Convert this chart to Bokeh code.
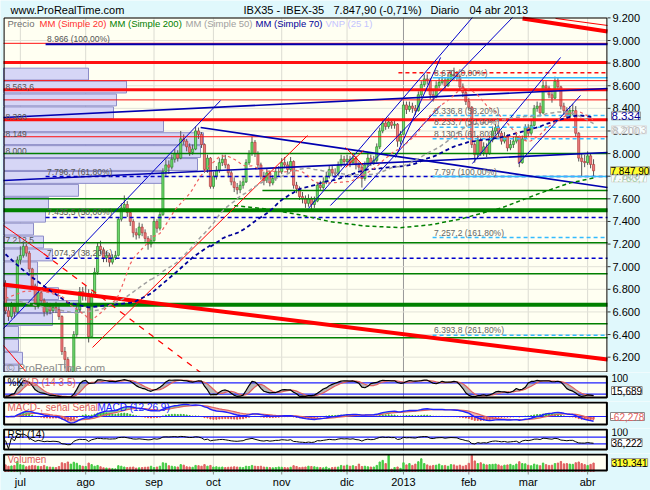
import numpy as np
import pandas as pd
from bokeh.plotting import figure
from bokeh.layouts import column
from bokeh.models import Range1d, Label, ColumnDataSource
from bokeh.embed import file_html
from bokeh.resources import INLINE

# ---------------- data ----------------
month_idx = [5, 27, 50, 70, 93, 115, 134, 156, 176, 196]
month_labels = ["jul", "ago", "sep", "oct", "nov", "dic", "2013", "feb", "mar", "abr"]
year_idx = 134

first_open = 6850
closes = [6610, 6560, 6650, 6600, 7060, 7100, 7180, 7120, 6980, 6830,
          6650, 6770, 6700, 6600, 6650, 6610, 6640, 6620, 6560, 6250,
          6180, 5990, 6010, 6400, 6620, 6780, 6740, 6760, 6380, 6750,
          6950, 7180, 7150, 7080, 7100, 7040, 7080, 7100, 7420, 7520,
          7550, 7480, 7400, 7300, 7280, 7350, 7300, 7250, 7200, 7230,
          7400, 7340, 7460, 7840, 7900, 7880, 7950, 8000, 7960, 8130,
          8110, 8060, 8010, 8040, 8200, 8170, 8080, 7860, 7960, 7710,
          7800, 7850, 7920, 7950, 7900, 7830, 7750, 7700, 7680, 7720,
          7750, 7920, 8000, 8100, 8000, 7900, 7800, 7760, 7830, 7740,
          7780, 7840, 7840, 7920, 7900, 7860, 7930, 7720, 7690, 7620,
          7600, 7560, 7600, 7550, 7580, 7720, 7700, 7750, 7800, 7860,
          7830, 7820, 7900, 7950, 7930, 7950, 7920, 7960, 7900, 7880,
          7780, 7900, 7960, 7920, 7940, 8060, 8200, 8270, 8240, 8280,
          8250, 8260, 8110, 8170, 8430, 8390, 8420, 8400, 8380, 8520,
          8610, 8660, 8650, 8520, 8500, 8600, 8630, 8650, 8600, 8660,
          8700, 8690, 8680, 8590, 8540, 8460, 8410, 8080, 7990, 8120,
          8010, 8060, 8000, 8120, 8200, 8230, 8180, 8110, 8150, 8050,
          8080, 8110, 8150, 7920, 8130, 8230, 8180, 8250, 8400, 8420,
          8360, 8600, 8580, 8520, 8490, 8640, 8590, 8420, 8380, 8330,
          8380, 8380, 8180, 7960, 7930, 7920, 7980, 7904, 7847.9]
highs = [6880, 6650, 6690, 6680, 7090, 7180, 7220, 7200, 7140, 6990,
         6850, 6800, 6790, 6720, 6690, 6680, 6670, 6690, 6650, 6570,
         6290, 6200, 6100, 6430, 6660, 6820, 6820, 6830, 6800, 6780,
         6990, 7210, 7230, 7170, 7140, 7120, 7110, 7140, 7440, 7560,
         7630, 7580, 7500, 7420, 7340, 7390, 7380, 7330, 7270, 7280,
         7430, 7420, 7510, 7870, 7950, 7940, 7990, 8040, 8030, 8200,
         8170, 8130, 8090, 8080, 8240, 8230, 8190, 8090, 7990, 7970,
         7840, 7890, 7960, 7990, 7990, 7910, 7850, 7790, 7740, 7760,
         7790, 7950, 8030, 8150, 8120, 8020, 7920, 7840, 7870, 7850,
         7810, 7880, 7890, 7960, 7970, 7930, 7970, 7940, 7750, 7710,
         7660, 7630, 7640, 7620, 7620, 7750, 7760, 7790, 7840, 7890,
         7890, 7870, 7930, 7990, 7980, 7990, 7980, 8000, 7980, 7930,
         7900, 7930, 8000, 7990, 7980, 8090, 8230, 8310, 8300, 8320,
         8300, 8300, 8270, 8200, 8460, 8460, 8460, 8450, 8430, 8550,
         8640, 8700, 8700, 8670, 8560, 8640, 8670, 8690, 8670, 8700,
         8740, 8760, 8730, 8700, 8620, 8560, 8490, 8420, 8100, 8160,
         8140, 8100, 8090, 8160, 8240, 8260, 8250, 8200, 8190, 8170,
         8120, 8150, 8190, 8160, 8160, 8260, 8260, 8290, 8430, 8460,
         8450, 8640, 8640, 8600, 8560, 8680, 8670, 8600, 8450, 8410,
         8420, 8440, 8420, 8190, 8000, 7990, 8020, 8000, 7950]
lows = [6580, 6520, 6540, 6550, 6590, 7020, 7080, 7090, 6950, 6800,
        6620, 6630, 6660, 6560, 6570, 6580, 6590, 6590, 6530, 6220,
        6100, 5940, 5950, 6000, 6380, 6600, 6700, 6700, 6330, 6370,
        6730, 6930, 7110, 7040, 7040, 7000, 7020, 7060, 7090, 7400,
        7490, 7440, 7360, 7260, 7240, 7250, 7270, 7220, 7150, 7170,
        7220, 7300, 7320, 7450, 7800, 7820, 7860, 7920, 7930, 7950,
        8080, 8020, 7980, 7990, 8030, 8130, 8050, 7830, 7830, 7690,
        7690, 7770, 7830, 7890, 7870, 7790, 7720, 7660, 7640, 7650,
        7690, 7740, 7900, 7980, 7970, 7870, 7770, 7720, 7740, 7710,
        7720, 7760, 7800, 7820, 7870, 7830, 7840, 7690, 7650, 7590,
        7560, 7520, 7530, 7500, 7520, 7570, 7670, 7680, 7730, 7780,
        7800, 7790, 7800, 7880, 7900, 7900, 7880, 7900, 7860, 7850,
        7700, 7760, 7880, 7890, 7900, 7920, 8040, 8180, 8210, 8220,
        8220, 8220, 8060, 8080, 8170, 8350, 8370, 8360, 8340, 8370,
        8500, 8590, 8610, 8480, 8460, 8490, 8580, 8610, 8570, 8590,
        8640, 8650, 8640, 8560, 8500, 8430, 8380, 8050, 7920, 7970,
        7980, 7980, 7970, 7990, 8100, 8170, 8150, 8080, 8090, 8020,
        8030, 8050, 8090, 7880, 7910, 8110, 8150, 8160, 8240, 8370,
        8330, 8350, 8540, 8490, 8450, 8480, 8560, 8390, 8340, 8290,
        8300, 8340, 8150, 7930, 7800, 7880, 7900, 7870, 7800]
# volume, thousands
volumes = [250, 200, 210, 230, 380, 260, 240, 180, 210, 230,
           220, 200, 190, 230, 180, 170, 160, 150, 190,
           330, 300, 360, 280, 350, 310, 230, 200,
           190, 320, 260, 200, 230, 180, 140, 130, 120, 110, 100,
           220, 200, 170, 150, 160, 170, 130, 140, 150, 160, 170, 200,
           150, 170, 200, 330, 310, 220, 200, 180, 170, 260,
           240, 180, 170, 160, 230, 220, 200, 260, 200, 230,
           170, 180, 160, 170, 150, 160, 170, 180, 170, 160, 150, 200,
           190, 230, 200, 190, 200, 170, 160, 150, 140, 150, 170,
           160, 150, 140, 160, 220, 190, 150, 160, 170, 200, 190,
           180, 160, 150, 140, 170, 120, 150, 160, 170, 230, 210,
           240, 200, 220, 190, 280, 190, 200, 180, 170, 170,
           230, 360, 420, 300, 610, 90, 150, 170, 120,
           330, 250, 300, 230, 280, 370, 480, 300, 250, 210, 230,
           240, 280, 220, 230, 200, 260, 250, 210, 240, 200, 230,
           310, 610, 400, 300, 330, 280, 250, 260, 270, 280,
           250, 210, 240, 250, 270, 230, 280, 370, 300, 290,
           240, 220, 280, 250, 220, 320, 260, 230, 240, 300,
           320, 380, 290, 300, 280, 270, 330, 360, 300, 260,
           230, 270, 319.341]

price_ticks = [6200, 6400, 6600, 6800, 7000, 7200, 7400, 7600, 7800,
               8000, 8200, 8400, 8600, 8800, 9000, 9200]
price_tick_labels = ["6.200", "6.400", "6.600", "6.800", "7.000", "7.200", "7.400", "7.600",
                     "7.800", "8.000", "8.200", "8.400", "8.600", "8.800", "9.000", "9.200"]

# volume-at-price profile VNP(25): 25 bins between these prices, bottom -> top
vnp_low, vnp_high = 5905, 8760
vnp_vals = [10, 15, 19, 15, 15, 49, 77, 55, 34, 34, 49, 40, 30, 42, 45,
            75, 160, 194, 197, 200, 160, 110, 113, 123, 85]

# moving averages: leading parts (before enough history)
ma20_warm_day = [0, 6, 12, 19]
ma20_warm_val = [6720, 6780, 6790, 6737]
ma50_warm_day = [0, 5, 10, 17, 24, 32, 40, 49]
ma50_warm_val = [6720, 6690, 6660, 6620, 6590, 6620, 6720, 6890]
ma70_warm_day = [0, 5, 9, 15, 21, 28, 34, 43, 49, 57, 63, 69]
ma70_warm_val = [7110, 6990, 6905, 6790, 6683, 6640, 6657, 6683, 6763, 6940, 7081, 7190]
ma200_day = [77, 88, 99, 109, 121, 133, 143, 153, 167, 180, 190, 198]
ma200_val = [7540, 7510, 7460, 7400, 7360, 7345, 7370, 7420, 7520, 7650, 7740, 7784]

# horizontal levels
red_thick_levels = [8805, 8563.6, 8300]
red_thin_levels = [8975, 8645, 8475, 8149]
red_dash_level, red_dash_from = 8715, 132.3
green_thin_levels = [8000, 7600, 7212.5, 6937, 6495, 6371]
green_thick_levels = [7500, 6663]
green_short_level, green_short_from = 7674, 86.5
left_level_texts = [(8563.6, "8.563,6"), (8300, "8.300"), (8149, "8.149"), (8000, "8.000"), (7212.5, "7.212,5")]

fib1_from = 13.5
fib1_levels = [8966, 7796.7, 7435.5, 7074.3]
fib1_texts = ["8.966 (100,00%)", "7.796,7 (61,80%)", "7.435,5 (50,00%)", "7.074,3 (38,20%)"]
fib2_from = 143.8
fib2_levels = [8670, 8336.8, 8233.7, 8130.6, 7797, 7257.2, 6393.8]
fib2_texts = ["8.670 (0,00%)", "8.336,8 (38,20%)", "8.233,7 (50,00%)", "8.130,6 (61,80%)",
              "7.797 (100,00%)", "7.257,2 (161,80%)", "6.393,8 (261,80%)"]
fib2_solid = [True, False, False, False, True, False, False]

# trend lines (day, price) -> (day, price)
blue_thin_lines = [(-0.67, 6453, 72.4, 8469), (102, 7515, 157.2, 9203), (109.4, 7541, 170.7, 9203),
                   (131.3, 7966, 146.5, 8850), (157.2, 7912, 186.9, 8850), (172.7, 7912, 193.6, 8514),
                   (120.2, 7674, 146.5, 8425)]
blue_long_lines = [(-0.67, 8319, 202.69, 8576), (-0.67, 7762, 202.69, 8010), (65.7, 8231, 202.69, 7700)]
red_thick_diag = [(-0.67, 6843, 202.69, 6179), (174.1, 9195, 202.69, 9080)]
red_thin_diag = [(185.2, 9195, 202.69, 9133), (-0.67, 7364, 12.8, 7117), (-0.67, 6303, 7.4, 6056),
                 (29.3, 6286, 101.7, 8160), (114.5, 8054, 120.5, 7895), (114.5, 7877, 120.5, 8027)]
red_dash_diag = [(12.8, 7117, 65.7, 6064)]

last_texts = {"close": "7.847,90", "ma70": "8.334", "ma50": "8.210,3", "ma200": "7.783,7",
              "stoch": "15,689", "macd": "-62,278", "rsi": "36,222", "vol": "319.341"}
last_vals = {"close": 7847.9, "ma70": 8334, "ma50": 8210.3, "ma200": 7783.7}

# ---------------- derived series ----------------
n = len(closes)
idx = np.arange(n)
c = pd.Series(closes, dtype=float)
h = pd.Series(highs, dtype=float)
l = pd.Series(lows, dtype=float)
opens = [first_open] + closes[:-1]
o = pd.Series(opens, dtype=float)
up = (c >= o).values

ma20 = c.rolling(20).mean()
ma50 = c.rolling(50).mean()
ma70 = c.rolling(70).mean()

ll = l.rolling(14, min_periods=1).min()
hh = h.rolling(14, min_periods=1).max()
fastk = 100 * (c - ll) / (hh - ll)
stk = fastk.rolling(3, min_periods=1).mean()
std = stk.rolling(5, min_periods=1).mean()

ema12 = c.ewm(span=12, adjust=False).mean()
ema26 = c.ewm(span=26, adjust=False).mean()
macd = ema12 - ema26
sig = macd.ewm(span=9, adjust=False).mean()
hist = macd - sig

delta = c.diff().fillna(0)
gain = delta.clip(lower=0).ewm(alpha=1 / 14, adjust=False).mean()
loss = (-delta.clip(upper=0)).ewm(alpha=1 / 14, adjust=False).mean()
rsi = (100 - 100 / (1 + gain / loss.replace(0, np.nan))).fillna(50)

# ---------------- layout geometry ----------------
FONT = "Liberation Sans"
BG = "#e0f8fc"
PBG = "#fffff2"
W = 650
SX = 2.97                       # px per trading day
XL = -5 / SX                    # day at page x = 0
XR = XL + W / SX                # day at page x = 650
DX0 = (3 - 5) / SX              # left border of plot boxes
DX1 = (607 - 5) / SX            # right border of plot boxes
GREEN_F, GREEN_L = "#6fdc6f", "#2a8a2a"
RED_F, RED_L = "#ec7d7d", "#b03c3c"


def new_fig(height, y0, y1):
    f = figure(width=W, height=height, x_range=Range1d(XL, XR), y_range=Range1d(y0, y1),
               output_backend="svg", toolbar_location=None,
               x_axis_location=None, y_axis_location=None,
               min_border_left=0, min_border_right=0, min_border_top=0, min_border_bottom=0,
               background_fill_color=BG, border_fill_color=BG, outline_line_color=None)
    f.xgrid.visible = False
    f.ygrid.visible = False
    return f


def lab(f, x, y, text, color, size, xu="screen", yu="screen", align="left",
        baseline="middle", **kw):
    f.add_layout(Label(x=x, y=y, x_units=xu, y_units=yu, text=text, text_color=color,
                       text_font_size=f"{size}px", text_font=FONT, text_align=align,
                       text_baseline=baseline, **kw))


def panel(fig_top, fig_bot, box_top, box_bot, vtop, vbot):
    """figure covering page rows fig_top..fig_bot, data box box_top..box_bot."""
    u = (vtop - vbot) / (box_bot - box_top)

    def v(py):
        return vtop - (py - box_top) * u

    f = new_fig(fig_bot - fig_top, v(fig_bot), v(fig_top))
    f.quad(left=DX0, right=DX1, bottom=vbot, top=vtop, fill_color=PBG, line_color=None)
    for mi in month_idx:
        f.segment(x0=mi, y0=vbot, x1=mi, y1=vtop,
                  line_color="#999999" if mi == year_idx else "#dcdcd2", line_width=1)
    return f, v


def border(f, v, box_top, box_bot, w):
    f.quad(left=DX0 + 0.2, right=DX1 - 0.2, bottom=v(box_bot - w / 2), top=v(box_top + w / 2),
           fill_color=None, line_color="black", line_width=w)


def hline(f, lv, x0=DX0, **kw):
    f.segment(x0=x0, y0=lv, x1=DX1, y1=lv, **kw)


# ---- main price panel: figure rows 0..372, box 17..372 ----
PY = 8.842
def price_at(py):
    return 9000 - (py - 40) * PY

p, pv = panel(0, 372, 17, 372, price_at(17), price_at(372))
for t in price_ticks:
    hline(p, t, line_color="#e2e2d8", line_width=1)

# volume profile: 1 unit = 1 px from the box's left edge
p.extra_x_ranges = {"vnp": Range1d(-3, W - 3)}
bw = (vnp_high - vnp_low) / len(vnp_vals)
vnp_centers = [vnp_low + bw * (k + 0.5) for k in range(len(vnp_vals))]
p.hbar(y=vnp_centers, height=bw * 0.92, left=0, right=vnp_vals, x_range_name="vnp",
       fill_color="#d6d6f6", line_color="#8c8cc8", line_width=1)

# candles
src = ColumnDataSource(dict(x=idx, h=h.values, l=l.values,
                            top=np.maximum(o.values, c.values), bot=np.minimum(o.values, c.values),
                            fill=[GREEN_F if u else RED_F for u in up],
                            line=[GREEN_L if u else RED_L for u in up]))
p.segment(x0="x", y0="l", x1="x", y1="h", source=src, line_color="#555555", line_width=1)
p.vbar(x="x", width=0.72, top="top", bottom="bot", fill_color="fill", line_color="line",
       line_width=0.7, source=src)

# horizontal lines
for lv in red_thick_levels:
    hline(p, lv, line_color="#ff1010", line_width=3)
for lv in red_thin_levels:
    hline(p, lv, line_color="#ff1010", line_width=1)
for lv in green_thin_levels:
    hline(p, lv, line_color="#008000", line_width=1.5)
for lv in green_thick_levels:
    hline(p, lv, line_color="#008000", line_width=4)
hline(p, green_short_level, x0=green_short_from, line_color="#008000", line_width=1.5)
hline(p, red_dash_level, x0=red_dash_from, line_color="#ff1010", line_width=1.3, line_dash="4 3")

hline(p, fib1_levels[0], x0=fib1_from, line_color="#0000b0", line_width=2)
for lv in fib1_levels[1:]:
    hline(p, lv, x0=fib1_from, line_color="#0000cc", line_width=1.5, line_dash="4 3")
for lv, solid in zip(fib2_levels, fib2_solid):
    hline(p, lv, x0=fib2_from, line_color="#33bbff", line_width=1.5,
          line_dash="solid" if solid else "4 3")


def segs(lines, **kw):
    p.segment(x0=[a[0] for a in lines], y0=[a[1] for a in lines],
              x1=[a[2] for a in lines], y1=[a[3] for a in lines], **kw)


segs(blue_thin_lines, line_color="#0000cc", line_width=1)
segs(blue_long_lines, line_color="#0000b0", line_width=1.6)
segs(red_thick_diag, line_color="#ff0000", line_width=4)
segs(red_thin_diag, line_color="#ff0000", line_width=1)
segs(red_dash_diag, line_color="#ff0000", line_width=1.2, line_dash="6 6")

# moving averages
p.line(ma200_day, ma200_val, line_color="#008000", line_width=1.5, line_dash="4 3")
p.line(ma70_warm_day, ma70_warm_val, line_color="#000099", line_width=1.8, line_dash="4 3")
p.line(idx[69:], ma70.values[69:], line_color="#000099", line_width=1.8, line_dash="4 3")
p.line(ma50_warm_day, ma50_warm_val, line_color="#a0a0a0", line_width=1.5, line_dash="4 3")
p.line(idx[49:], ma50.values[49:], line_color="#a0a0a0", line_width=1.5, line_dash="4 3")
p.line(ma20_warm_day, ma20_warm_val, line_color="#f06060", line_width=1.2, line_dash="3 3")
p.line(idx[19:], ma20.values[19:], line_color="#f06060", line_width=1.2, line_dash="3 3")

border(p, pv, 17, 372, 1)

# price scale on the right
p.segment(x0=DX1, y0=price_ticks, x1=DX1 + 3 / SX, y1=price_ticks, line_color="#333333", line_width=1)
for t, s in zip(price_ticks, price_tick_labels):
    lab(p, 612, t, s, "#000000", 11, yu="data")

# level texts
for lv, t in left_level_texts:
    lab(p, 5, lv, t, "#555555", 8.5, yu="data", baseline="bottom")
for lv, t in zip(fib1_levels, fib1_texts):
    lab(p, fib1_from + 0.5, lv, t, "#555555", 8.5, xu="data", yu="data", baseline="bottom")
for lv, t in zip(fib2_levels, fib2_texts):
    lab(p, fib2_from + 0.5, lv, t, "#666666", 8.5, xu="data", yu="data", baseline="bottom")


def sy_main(page_y):
    return 372 - page_y

lab(p, 10, sy_main(9), "www.ProRealTime.com", "#000000", 11)
lab(p, 243, sy_main(9), "IBX35 - IBEX-35", "#000000", 11)
lab(p, 333, sy_main(9), "7.847,90 (-0,71%)", "#000000", 11)
lab(p, 430, sy_main(9), "Diario", "#000000", 11)
lab(p, 469, sy_main(9), "04 abr 2013", "#000000", 11)
legend_parts = [("Precio", "#707070", 7), ("MM (Simple 20)", "#ff3030", 39),
                ("MM (Simple 200)", "#008000", 109), ("MM (Simple 50)", "#a0a0a0", 185),
                ("MM (Simple 70)", "#000099", 255), ("VNP (25 1)", "#c4c4ff", 325)]
for t, col, xx in legend_parts:
    lab(p, xx, sy_main(23), t, col, 9.5)
lab(p, 6, sy_main(367), "\u00a9 ProRealTime.com", "#8a8a8a", 11)

# right-side value boxes
lab(p, 611, last_vals["ma50"], last_texts["ma50"], "#c8c8c8", 10.5, yu="data",
    background_fill_color="white", background_fill_alpha=0.7, border_line_color="#dddddd")
lab(p, 611, last_vals["ma200"], last_texts["ma200"], "#a8d0a8", 10.5, yu="data",
    background_fill_color="white", background_fill_alpha=0.7, border_line_color="#dddddd")
lab(p, 611, last_vals["ma70"], last_texts["ma70"], "#000099", 11.5, yu="data",
    background_fill_color="white", border_line_color="#888888")
lab(p, 610, last_vals["close"], last_texts["close"], "#000000", 10, yu="data",
    background_fill_color="#ffff33", border_line_color="#999999")

# ---- stochastic: rows 372..401, box 375..398 ----
s_f, sv = panel(372, 401, 375, 398, 118.4, -2.6)
s_f.varea(x=idx, y1=stk.values, y2=std.values, fill_color="#a8a8a8", fill_alpha=0.8)
hline(s_f, 80, line_color="#2020ff", line_width=1.2)
hline(s_f, 20, line_color="#2020ff", line_width=1.2)
s_f.line(idx, std.values, line_color="#e06060", line_width=1.2)
s_f.line(idx, stk.values, line_color="#000000", line_width=1.2)
border(s_f, sv, 375, 398, 2)
lab(s_f, 7, 401 - 382, "%K", "#000000", 10)
lab(s_f, 22, 401 - 382, "%D (14 3 5)", "#e06060", 10)
lab(s_f, 611, 401 - 377, "100", "#000000", 10)
lab(s_f, 611, 401 - 390, last_texts["stoch"], "#000000", 10,
    background_fill_color="white", border_line_color="#888888")

# ---- MACD: rows 401..428, box 401..425 ----
mx = max(macd.max(), sig.max())
m_hi = mx * 15 / 12
m_lo = -m_hi * 9 / 15
m_f, mv = panel(401, 428, 401, 425, m_hi, m_lo)
lowline = np.minimum(macd.values, sig.values)
m_f.varea(x=idx, y1=macd.values, y2=lowline, fill_color="#7ad07a", fill_alpha=0.8)
m_f.varea(x=idx, y1=sig.values, y2=lowline, fill_color="#e8a4a4", fill_alpha=0.8)
m_f.vbar(x=idx, width=0.35, top=hist.values, bottom=0,
         color=["#3cb43c" if vv >= 0 else "#e05050" for vv in hist.values])
hline(m_f, 0, line_color="#2020ff", line_width=1.2)
m_f.line(idx, sig.values, line_color="#e06060", line_width=1.2)
m_f.line(idx, macd.values, line_color="#2020ff", line_width=1.4)
border(m_f, mv, 401, 425, 2)
lab(m_f, 7, 428 - 407, "MACD-, se\u00f1al Se\u00f1al", "#e06060", 10)
lab(m_f, 97, 428 - 407, "MACD (12 26 9)", "#2020ff", 10)
lab(m_f, 610, 428 - 416, last_texts["macd"], "#e06060", 10,
    background_fill_color="white", border_line_color="#888888")

# ---- RSI: rows 428..453, box 428..450 ----
r_f, rv = panel(428, 453, 428, 450, 122.7, -10.6)
hline(r_f, 70, line_color="#2020ff", line_width=1.2)
hline(r_f, 30, line_color="#2020ff", line_width=1.2)
r_f.line(idx, rsi.values, line_color="#000000", line_width=1)
border(r_f, rv, 428, 450, 2)
lab(r_f, 7, 453 - 434, "RSI (14)", "#000000", 10)
lab(r_f, 611, 453 - 431, "100", "#000000", 10)
lab(r_f, 611, 453 - 442, last_texts["rsi"], "#000000", 10,
    background_fill_color="white", border_line_color="#888888")

# ---- volume: rows 453..490, box 453..471 ----
v_f, vv_ = panel(453, 490, 453, 471, 680, 0)
v_f.vbar(x=idx, width=0.45, top=volumes, bottom=0,
         color=["#44cc44" if u else "#e06060" for u in up])
border(v_f, vv_, 453, 471, 2)
v_f.segment(x0=month_idx, y0=vv_(471), x1=month_idx, y1=vv_(474), line_color="#888888", line_width=1)
lab(v_f, 7, 490 - 459, "Volumen", "#e06060", 10)
lab(v_f, 611, 490 - 462, last_texts["vol"], "#000000", 10,
    background_fill_color="#ffff33", border_line_color="#999999")
for mi, t in zip(month_idx, month_labels):
    lab(v_f, mi, 490 - 481, t, "#000000", 11, xu="data", align="center")

layout = column(p, s_f, m_f, r_f, v_f, spacing=0)
open("out.html", "w").write(file_html(layout, INLINE))
